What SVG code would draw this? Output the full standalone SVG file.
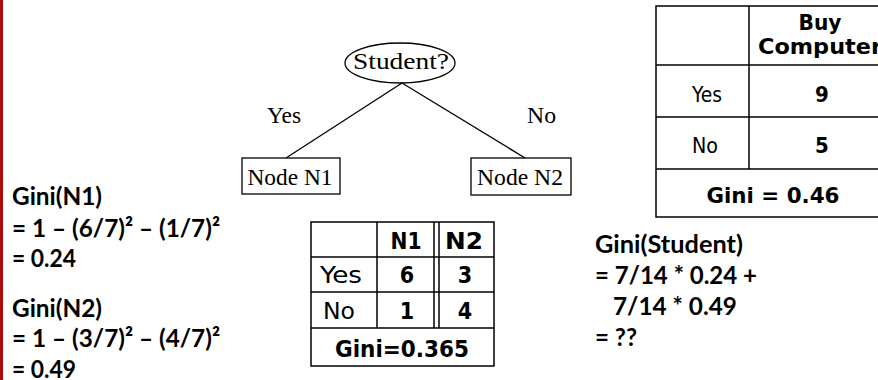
<svg xmlns="http://www.w3.org/2000/svg" width="878" height="380" viewBox="0 0 878 380">
<style>
.tt{font-family:"Liberation Serif","Times New Roman",serif;font-size:23px;fill:#000}
.cal{font-family:Lato,"Liberation Sans",sans-serif;font-weight:700;font-size:25px;fill:#000}
.tah{font-family:"DejaVu Sans Condensed","DejaVu Sans",sans-serif;font-size:22px;fill:#000}
.mid{font-size:23px}
.b{font-weight:700}
.ln{stroke:#000;stroke-width:1.3;fill:none}
.cell{stroke:#000;stroke-width:1.5;fill:#fff}
.grid{stroke:#000;stroke-width:1.5}
</style>
<rect width="878" height="380" fill="#fff"/>
<rect x="0" y="0" width="3" height="380" fill="#a80c0c"/>

<g id="connectors">
  <line class="ln" x1="402" y1="83" x2="286" y2="158"/>
  <line class="ln" x1="402" y1="83" x2="525" y2="158"/>
  <text class="tt" x="267" y="123" textLength="34" lengthAdjust="spacingAndGlyphs">Yes</text>
  <text class="tt" x="527" y="123" textLength="29" lengthAdjust="spacingAndGlyphs">No</text>
</g>

<g id="node-student">
  <ellipse class="ln" cx="400" cy="63" rx="55" ry="20" fill="#fff"/>
  <text class="tt" x="401" y="69" text-anchor="middle" textLength="96" lengthAdjust="spacingAndGlyphs">Student?</text>
</g>
<g id="node-n1">
  <rect class="ln" x="242" y="158" width="98" height="36" fill="#fff"/>
  <text class="tt" x="290" y="185" text-anchor="middle" textLength="85" lengthAdjust="spacingAndGlyphs">Node N1</text>
</g>
<g id="node-n2">
  <rect class="ln" x="471" y="158" width="100" height="37" fill="#fff"/>
  <text class="tt" x="520" y="185" text-anchor="middle" textLength="86" lengthAdjust="spacingAndGlyphs">Node N2</text>
</g>

<g id="table-total">
  <rect class="cell" x="656" y="6" width="260" height="211"/>
  <line class="grid" x1="656" y1="65" x2="878" y2="65"/>
  <line class="grid" x1="656" y1="117" x2="878" y2="117"/>
  <line class="grid" x1="656" y1="169" x2="878" y2="169"/>
  <line class="grid" x1="749" y1="6" x2="749" y2="169"/>
  <text class="tah b" x="820" y="30" text-anchor="middle" font-size="21" textLength="43" lengthAdjust="spacingAndGlyphs">Buy</text>
  <text class="tah b" x="758" y="54" font-size="21" textLength="124" lengthAdjust="spacingAndGlyphs">Computer</text>
  <text class="tah" x="707" y="102" text-anchor="middle" textLength="30" lengthAdjust="spacingAndGlyphs">Yes</text>
  <text class="tah b" x="822" y="102" text-anchor="middle">9</text>
  <text class="tah" x="705" y="153" text-anchor="middle" textLength="26" lengthAdjust="spacingAndGlyphs">No</text>
  <text class="tah b" x="822" y="153" text-anchor="middle">5</text>
  <text class="tah b" x="773" y="203" text-anchor="middle" textLength="133" lengthAdjust="spacingAndGlyphs">Gini = 0.46</text>
</g>

<g id="table-split">
  <rect class="cell" x="311" y="222" width="183" height="144"/>
  <line class="grid" x1="311" y1="257" x2="494" y2="257"/>
  <line class="grid" x1="311" y1="292" x2="494" y2="292"/>
  <line class="grid" x1="311" y1="328" x2="494" y2="328"/>
  <line class="grid" x1="377" y1="222" x2="377" y2="328"/>
  <line class="grid" x1="434" y1="222" x2="434" y2="328"/>
  <line class="grid" x1="439" y1="222" x2="439" y2="328"/>
  <text class="tah mid b" x="406" y="249" text-anchor="middle" textLength="31" lengthAdjust="spacingAndGlyphs">N1</text>
  <text class="tah mid b" x="464" y="249" text-anchor="middle" textLength="38" lengthAdjust="spacingAndGlyphs">N2</text>
  <text class="tah mid" x="341" y="283" text-anchor="middle" textLength="42" lengthAdjust="spacingAndGlyphs">Yes</text>
  <text class="tah mid b" x="407" y="283" text-anchor="middle">6</text>
  <text class="tah mid b" x="465" y="283" text-anchor="middle">3</text>
  <text class="tah mid" x="339" y="319" text-anchor="middle" textLength="32" lengthAdjust="spacingAndGlyphs">No</text>
  <text class="tah mid b" x="407" y="319" text-anchor="middle">1</text>
  <text class="tah mid b" x="465" y="319" text-anchor="middle">4</text>
  <text class="tah mid b" x="402" y="357" text-anchor="middle" textLength="134" lengthAdjust="spacingAndGlyphs">Gini=0.365</text>
</g>

<g id="gini-n1">
  <text class="cal" x="12" y="205" textLength="90" lengthAdjust="spacingAndGlyphs">Gini(N1)</text>
  <text class="cal" x="12" y="237" textLength="208" lengthAdjust="spacingAndGlyphs">= 1 – (6/7)² – (1/7)²</text>
  <text class="cal" x="12" y="267" textLength="64" lengthAdjust="spacingAndGlyphs">= 0.24</text>
</g>
<g id="gini-n2">
  <text class="cal" x="12" y="317" textLength="90" lengthAdjust="spacingAndGlyphs">Gini(N2)</text>
  <text class="cal" x="12" y="347" textLength="208" lengthAdjust="spacingAndGlyphs">= 1 – (3/7)² – (4/7)²</text>
  <text class="cal" x="12" y="378" textLength="64" lengthAdjust="spacingAndGlyphs">= 0.49</text>
</g>
<g id="gini-student">
  <text class="cal" x="595" y="253" textLength="148" lengthAdjust="spacingAndGlyphs">Gini(Student)</text>
  <text class="cal" x="595" y="284" textLength="162" lengthAdjust="spacingAndGlyphs">= 7/14 * 0.24 +</text>
  <text class="cal" x="613" y="315" textLength="124" lengthAdjust="spacingAndGlyphs">7/14 * 0.49</text>
  <text class="cal" x="595" y="346" textLength="42" lengthAdjust="spacingAndGlyphs">= ??</text>
</g>
</svg>
